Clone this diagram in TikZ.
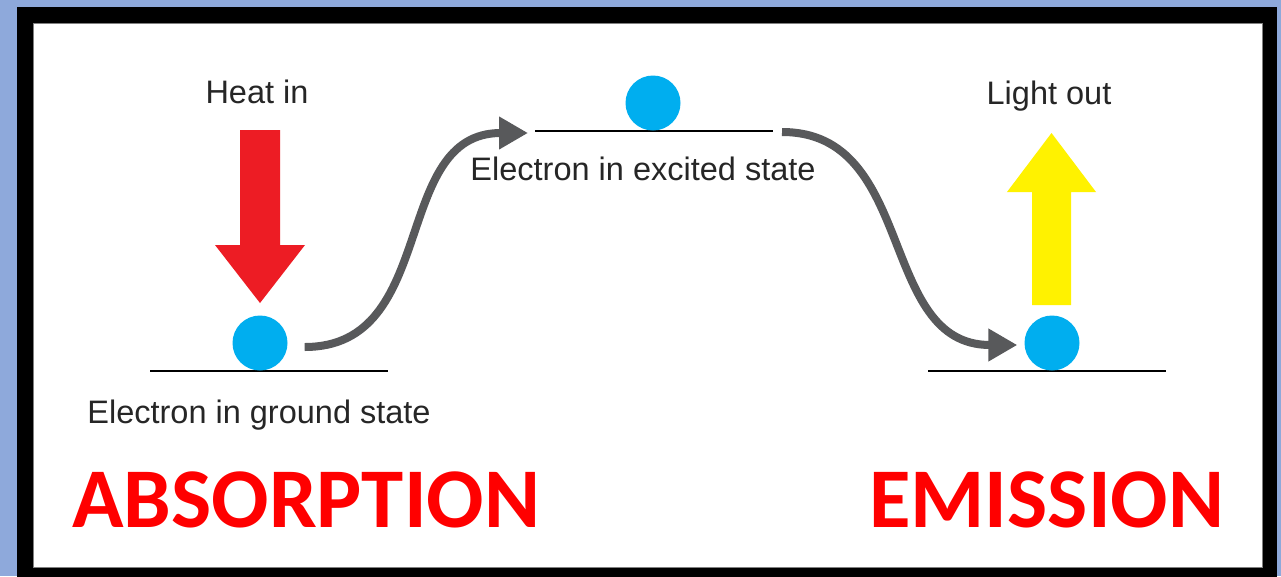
\documentclass[tikz,border=0pt]{standalone}
\usepackage{fontspec}
\setmainfont{Liberation Sans}
\newfontfamily\boldsans{Carlito}
\usepackage{tikz}
\usetikzlibrary{arrows.meta,positioning,calc}
\usepackage{xcolor}
\definecolor{slide}{HTML}{8EA9DB}
\definecolor{heatred}{HTML}{ED1C24}
\definecolor{lightyellow}{HTML}{FFF200}
\definecolor{electronblue}{HTML}{00AEEF}
\definecolor{jumpgray}{HTML}{58595B}
\definecolor{titlered}{HTML}{FF0000}

\begin{document}
\begin{tikzpicture}[x=1pt, y=-1pt, >={Triangle[length=29pt, width=31pt]},
  electron/.style={circle, fill=electronblue, inner sep=0pt, minimum size=55pt},
  level/.style={line width=2pt, black},
  jump/.style={->, line width=8pt, jumpgray},
  caption/.style={anchor=base, inner sep=0pt, font=\fontsize{32.5}{38}\selectfont, black!85},
  process/.style={anchor=base west, inner sep=0pt, text=titlered, font=\boldsans\bfseries\fontsize{85}{96}\selectfont}]
  \useasboundingbox (0,0) rectangle (1281,576);
  % frame
  \fill[slide] (0,0) rectangle (1281,576);
  \fill[black] (17,7) rectangle (1277,590);
  \filldraw[fill=white, draw=gray, line width=1pt] (33,23) rectangle (1262,567);

  % energy levels
  \coordinate (g1l) at (150,371); \coordinate (g1r) at (388,371);
  \coordinate (x1) at (535,131);  \coordinate (x2) at (773,131);
  \coordinate (g2l) at (928,371); \coordinate (g2r) at (1166,371);
  \draw[level] (g1l) -- (g1r);
  \draw[level] (x1) -- (x2);
  \draw[level] (g2l) -- (g2r);

  % electrons
  \node[electron] (e1) at (260,343) {};
  \node[electron] (e2) at (653,103) {};
  \node[electron] (e3) at (1052,343) {};

  % heat in / light out
  \fill[heatred] (240,130) -- (280,130) -- (280,245) -- (305,245) -- (260,303)
    -- (215,245) -- (240,245) -- cycle;
  \fill[lightyellow] (1032,305) -- (1071,305) -- (1071,192) -- (1096,192) -- (1051.5,133)
    -- (1007,192) -- (1032,192) -- cycle;
  \node[caption] (heat) at (257,103) {Heat in};
  \node[caption] (light) at (1049,104) {Light out};

  % transitions
  \draw[jump] ([xshift=17pt, yshift=-4pt]e1.east) .. controls +(135,0) and +(-138,0) .. ([xshift=-7pt, yshift=-2pt]x1);
  \draw[jump] ([xshift=9pt, yshift=-1pt]x2) .. controls +(135,0) and +(-140,0) .. ([xshift=-7pt, yshift=-2pt]e3.west);

  % labels
  \node[caption] (ground) at (259,423) {Electron in ground state};
  \node[caption] (excited) at (643,180) {Electron in excited state};
  \node[process] (abs) at (72,527) {ABSORPTION};
  \node[process] (emi) at (869,527) {EMISSION};
\end{tikzpicture}
\end{document}
